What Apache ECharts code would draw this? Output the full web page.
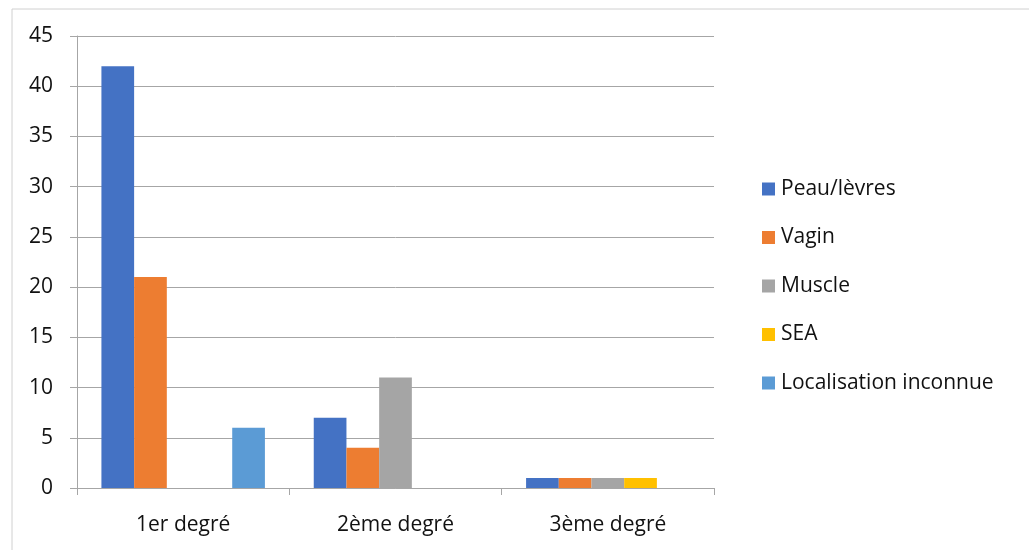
<!DOCTYPE html>
<html>
<head>
<meta charset="utf-8">
<script src="https://cdn.jsdelivr.net/npm/echarts@6/dist/echarts.min.js"></script>
<style>
html,body{margin:0;padding:0;background:#fff;}
#chart{width:1029px;height:550px;}
</style>
</head>
<body>
<div id="chart"></div>
<script>
const categories = ['1er degré', '2ème degré', '3ème degré'];
const seriesNames = ['Peau/lèvres', 'Vagin', 'Muscle', 'SEA', 'Localisation inconnue'];
const peau = [42, 7, 1];
const vagin = [21, 4, 1];
const muscle = [0, 11, 1];
const sea = [0, 0, 1];
const inconnue = [6, 0, 0];
const colors = ['#4472C4', '#ED7D31', '#A5A5A5', '#FFC000', '#5B9BD5'];
const yTicks = { min: 0, max: 45, interval: 5 };

const values = [peau, vagin, muscle, sea, inconnue];
const FONT = '"Open Sans", Lato, sans-serif';
const chart = echarts.init(document.getElementById('chart'));
chart.setOption({
  animation: false,
  backgroundColor: '#fff',
  color: colors,
  graphic: [{
    type: 'rect', left: 9.5, top: 6.5,
    shape: { width: 1040, height: 580 },
    style: { fill: 'none', stroke: '#d0d0d0', lineWidth: 1 }
  }],
  grid: { left: 77, right: 315, top: 36, bottom: 62 },
  legend: {
    orient: 'vertical', left: 757, top: 173,
    itemWidth: 13, itemHeight: 13, itemGap: 26.5,
    icon: 'rect',
    textStyle: { fontFamily: FONT, fontSize: 21, lineHeight: 22, color: '#111', padding: [0, 0, 0, 1] },
    data: seriesNames
  },
  xAxis: {
    type: 'category', data: categories,
    axisLine: { lineStyle: { color: '#a6a6a6' } },
    axisTick: { show: true, length: 7, lineStyle: { color: '#a6a6a6' } },
    axisLabel: { fontFamily: FONT, fontSize: 21, color: '#111', margin: 27 }
  },
  yAxis: {
    type: 'value', min: yTicks.min, max: yTicks.max, interval: yTicks.interval,
    axisLine: { show: true, lineStyle: { color: '#a6a6a6' } },
    axisTick: { show: true, length: 7, lineStyle: { color: '#a6a6a6' } },
    axisLabel: { fontFamily: FONT, fontSize: 21, color: '#111', margin: 24 },
    splitLine: { lineStyle: { color: '#a6a6a6' } }
  },
  series: seriesNames.map((n, i) => ({
    name: n, type: 'bar', data: values[i],
    barGap: '0%', barCategoryGap: '23%',
    itemStyle: { color: colors[i] }
  }))
});
</script>
</body>
</html>
